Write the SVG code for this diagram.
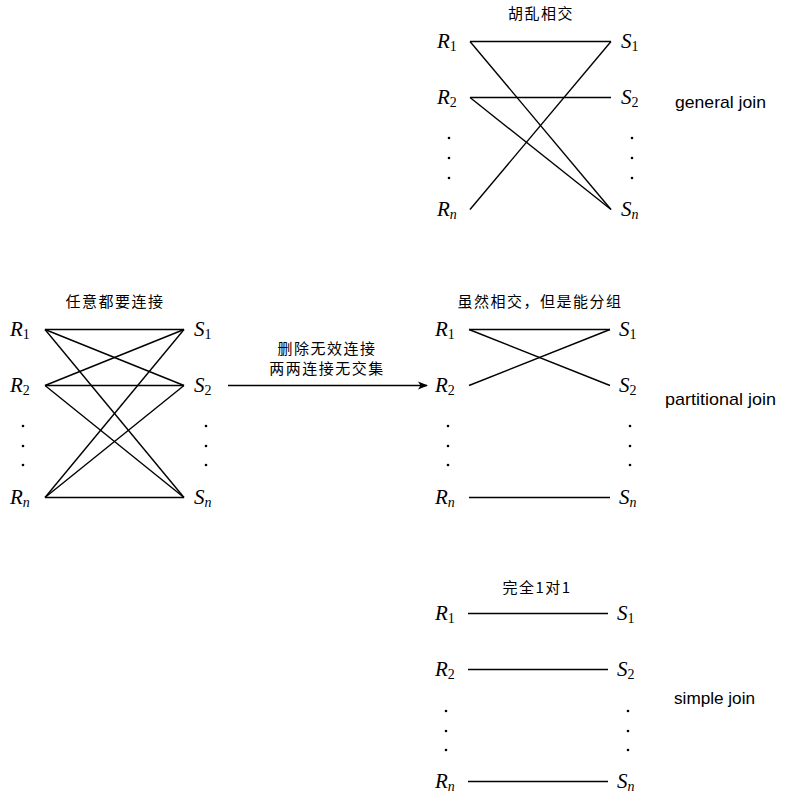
<svg xmlns="http://www.w3.org/2000/svg" width="787" height="802" viewBox="0 0 787 802">
<style>
.m{font-family:"Liberation Serif","DejaVu Serif",serif;font-style:italic;font-size:21px;fill:#000}
.d{font-style:normal;font-size:14px}
.n{font-style:italic;font-size:14px}
.t{font-family:"Noto Sans CJK SC","Noto Sans",sans-serif;font-size:15px;letter-spacing:1.5px;text-anchor:middle;fill:#000}
.j{font-family:"Liberation Sans","DejaVu Sans",sans-serif;font-size:17px;fill:#000}
.c line{stroke:#000;stroke-width:1.4}
.dot{fill:#000}
</style>
<defs>
<marker id="ah" markerWidth="10" markerHeight="10" refX="9" refY="5" orient="auto" markerUnits="userSpaceOnUse">
<path d="M0,1 L10,5 L0,9 L2.5,5 Z" fill="#000"/>
</marker>
</defs>

<g id="general">
<text class="t" x="541" y="19">胡乱相交</text>
<text class="m" x="437" y="48">R<tspan class="d" dy="3">1</tspan></text>
<text class="m" x="437" y="104">R<tspan class="d" dy="3">2</tspan></text>
<text class="m" x="437" y="216">R<tspan class="n" dy="3">n</tspan></text>
<text class="m" x="621" y="48">S<tspan class="d" dy="3">1</tspan></text>
<text class="m" x="621" y="104">S<tspan class="d" dy="3">2</tspan></text>
<text class="m" x="621" y="216">S<tspan class="n" dy="3">n</tspan></text>
<circle class="dot" cx="449" cy="138" r="1.3"/><circle class="dot" cx="449" cy="158" r="1.3"/><circle class="dot" cx="449" cy="178" r="1.3"/>
<circle class="dot" cx="632" cy="138" r="1.3"/><circle class="dot" cx="632" cy="158" r="1.3"/><circle class="dot" cx="632" cy="178" r="1.3"/>
<text class="j" x="675" y="108" textLength="91" lengthAdjust="spacingAndGlyphs">general join</text>
</g>

<g id="any">
<text class="t" x="115" y="307">任意都要连接</text>
<text class="m" x="10" y="336">R<tspan class="d" dy="3">1</tspan></text>
<text class="m" x="10" y="392">R<tspan class="d" dy="3">2</tspan></text>
<text class="m" x="10" y="504">R<tspan class="n" dy="3">n</tspan></text>
<text class="m" x="194" y="336">S<tspan class="d" dy="3">1</tspan></text>
<text class="m" x="194" y="392">S<tspan class="d" dy="3">2</tspan></text>
<text class="m" x="194" y="504">S<tspan class="n" dy="3">n</tspan></text>
<circle class="dot" cx="23" cy="426" r="1.3"/><circle class="dot" cx="23" cy="446" r="1.3"/><circle class="dot" cx="23" cy="465" r="1.3"/>
<circle class="dot" cx="206" cy="426" r="1.3"/><circle class="dot" cx="206" cy="446" r="1.3"/><circle class="dot" cx="206" cy="465" r="1.3"/>
</g>

<g id="partitional">
<text class="t" x="540" y="307">虽然相交，但是能分组</text>
<text class="m" x="435" y="336">R<tspan class="d" dy="3">1</tspan></text>
<text class="m" x="435" y="392">R<tspan class="d" dy="3">2</tspan></text>
<text class="m" x="435" y="504">R<tspan class="n" dy="3">n</tspan></text>
<text class="m" x="619" y="336">S<tspan class="d" dy="3">1</tspan></text>
<text class="m" x="619" y="392">S<tspan class="d" dy="3">2</tspan></text>
<text class="m" x="619" y="504">S<tspan class="n" dy="3">n</tspan></text>
<circle class="dot" cx="448" cy="426" r="1.3"/><circle class="dot" cx="448" cy="446" r="1.3"/><circle class="dot" cx="448" cy="465" r="1.3"/>
<circle class="dot" cx="630" cy="426" r="1.3"/><circle class="dot" cx="630" cy="446" r="1.3"/><circle class="dot" cx="630" cy="465" r="1.3"/>
<text class="j" x="665" y="405" textLength="111" lengthAdjust="spacingAndGlyphs">partitional join</text>
</g>

<g id="simple">
<text class="t" x="537" y="593">完全1对1</text>
<text class="m" x="435" y="620">R<tspan class="d" dy="3">1</tspan></text>
<text class="m" x="435" y="676">R<tspan class="d" dy="3">2</tspan></text>
<text class="m" x="435" y="788">R<tspan class="n" dy="3">n</tspan></text>
<text class="m" x="617" y="620">S<tspan class="d" dy="3">1</tspan></text>
<text class="m" x="617" y="676">S<tspan class="d" dy="3">2</tspan></text>
<text class="m" x="617" y="788">S<tspan class="n" dy="3">n</tspan></text>
<circle class="dot" cx="446" cy="711" r="1.3"/><circle class="dot" cx="446" cy="731" r="1.3"/><circle class="dot" cx="446" cy="750" r="1.3"/>
<circle class="dot" cx="628" cy="711" r="1.3"/><circle class="dot" cx="628" cy="731" r="1.3"/><circle class="dot" cx="628" cy="750" r="1.3"/>
<text class="j" x="674" y="704" textLength="81" lengthAdjust="spacingAndGlyphs">simple join</text>
</g>

<g id="arrow-label">
<text class="t" x="327" y="354">删除无效连接</text>
<text class="t" x="327" y="374">两两连接无交集</text>
</g>

<g id="connectors" class="c">
<line x1="470" y1="41.5" x2="611" y2="41.5"/>
<line x1="470" y1="41.5" x2="611" y2="209.5"/>
<line x1="470" y1="97.5" x2="611" y2="97.5"/>
<line x1="470" y1="97.5" x2="611" y2="209.5"/>
<line x1="470" y1="209.5" x2="611" y2="41.5"/>

<line x1="45" y1="329.5" x2="184" y2="329.5"/>
<line x1="45" y1="329.5" x2="184" y2="385.5"/>
<line x1="45" y1="329.5" x2="184" y2="497.5"/>
<line x1="45" y1="385.5" x2="184" y2="329.5"/>
<line x1="45" y1="385.5" x2="184" y2="385.5"/>
<line x1="45" y1="385.5" x2="184" y2="497.5"/>
<line x1="45" y1="497.5" x2="184" y2="329.5"/>
<line x1="45" y1="497.5" x2="184" y2="385.5"/>
<line x1="45" y1="497.5" x2="184" y2="497.5"/>

<line x1="469" y1="329.5" x2="610" y2="329.5"/>
<line x1="469" y1="329.5" x2="610" y2="385.5"/>
<line x1="469" y1="385.5" x2="610" y2="329.5"/>
<line x1="469" y1="497.5" x2="610" y2="497.5"/>

<line x1="468" y1="613.5" x2="608" y2="613.5"/>
<line x1="468" y1="669.5" x2="608" y2="669.5"/>
<line x1="468" y1="781.5" x2="608" y2="781.5"/>

<line x1="228" y1="385.5" x2="427" y2="385.5" marker-end="url(#ah)"/>
</g>
</svg>
